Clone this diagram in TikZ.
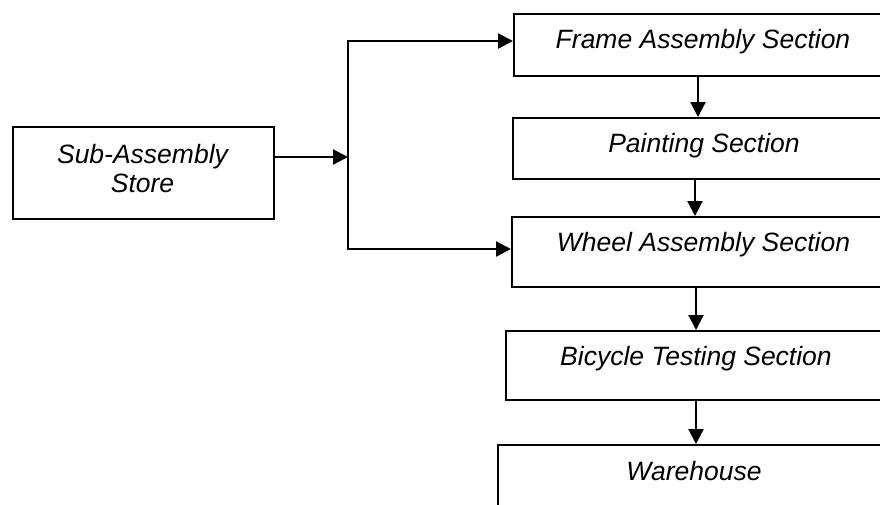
\documentclass[tikz,border=0pt]{standalone}
\usepackage{fontspec}
\setmainfont{Liberation Sans}
\usetikzlibrary{arrows.meta}
\begin{document}
\begin{tikzpicture}[x=1pt,y=-1pt,
  box/.style={draw=black, line width=2pt, fill=none, inner sep=0pt, anchor=north west},
  lbl/.style={inner sep=0pt, font=\fontsize{26.5}{29}\selectfont\itshape, anchor=base, align=center},
  arr/.style={line width=2.2pt, -{Triangle[length=15pt,width=15pt]}}]
\useasboundingbox (0,0) rectangle (880,504);
\clip (0,0) rectangle (880,504);
\fill[white] (0,0) rectangle (880,504);
% boxes
\node[box, minimum width=261pt, minimum height=92pt] (sub) at (12,126) {};
\node[box, minimum width=380pt, minimum height=62pt] (frame) at (513,13) {};
\node[box, minimum width=381pt, minimum height=61pt] (paint) at (512,117) {};
\node[box, minimum width=382pt, minimum height=70pt] (wheel) at (511,216) {};
\node[box, minimum width=383pt, minimum height=69pt] (test) at (505,330) {};
\node[box, minimum width=394pt, minimum height=80pt] (ware) at (497,444) {};
% labels
\node[lbl] (subT) at (142.5,192) {Sub-Assembly\\Store};
\node[lbl] (frameT) at (703,48) {Frame Assembly Section};
\node[lbl] (paintT) at (704,152) {Painting Section};
\node[lbl] (wheelT) at (703.5,251) {Wheel Assembly Section};
\node[lbl] (testT) at (696,365) {Bicycle Testing Section};
\node[lbl] (wareT) at (694,480) {Warehouse};
% junction coordinates
\coordinate (jm) at (348,157);
\coordinate (jt) at (348,41);
\coordinate (jb) at (348,249);
\coordinate (c1) at (698,0);
\coordinate (c2) at (695,0);
\coordinate (c3) at (696,0);
% connectors
\draw[arr] (sub.east |- jm) -- (jm);
\draw[arr] (jm) |- (frame.west |- jt);
\draw[arr] (jm) |- (wheel.west |- jb);
\draw[arr] (frame.south -| c1) -- (paint.north -| c1);
\draw[arr] (paint.south -| c2) -- (wheel.north -| c2);
\draw[arr] (wheel.south -| c3) -- (test.north -| c3);
\draw[arr] (test.south -| c3) -- (ware.north -| c3);
\end{tikzpicture}
\end{document}
